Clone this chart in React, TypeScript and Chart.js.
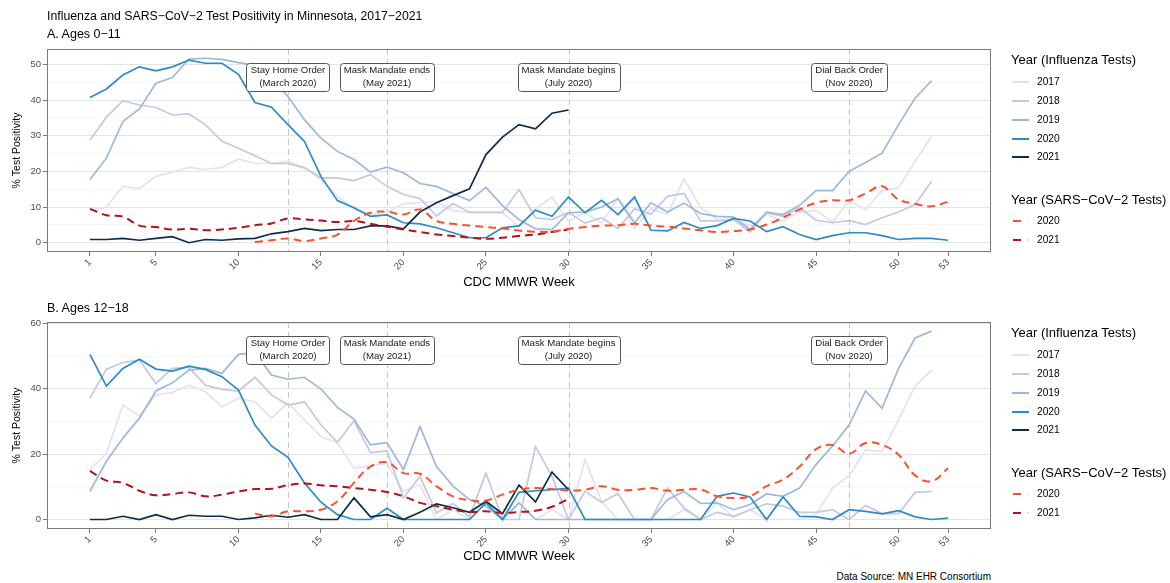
import React, { useEffect, useRef } from "react";
import { Chart, registerables } from "chart.js";

Chart.register(...registerables);

const FONT = "'Liberation Sans', Arial, Helvetica, sans-serif";
Chart.defaults.font.family = FONT;

// ---------- categories / ticks ----------
const X_TICKS = [1, 5, 10, 15, 20, 25, 30, 35, 40, 45, 50, 53];
const X_MIN = -1.6;
const X_MAX = 55.6;

const EVENT_WEEKS = [13, 19, 30, 47];
const EVENT_TITLES = ["Stay Home Order", "Mask Mandate ends", "Mask Mandate begins", "Dial Back Order"];
const EVENT_DATES = ["(March 2020)", "(May 2021)", "(July 2020)", "(Nov 2020)"];

const FLU_YEARS = ["2017", "2018", "2019", "2020", "2021"];
const COVID_YEARS = ["2020", "2021"];
const FLU_COLORS = ["#e5e2ef", "#c7c7e2", "#9cb8dc", "#2b8cc4", "#0c2d4e"];
const COVID_COLORS = ["#f7522f", "#b0141b"];
const COVID_START_WEEK = [11, 1];

// ---------- Panel A: ages 0-11 ----------
const A_Y_TICKS = [0, 5, 10, 15, 20, 25, 30, 35, 40, 45, 50];
const A_Y_LABEL_STEP = 10;
const A_FLU_2017 = [9.0, 10.0, 15.8, 15.2, 18.6, 19.8, 21.1, 20.5, 21.1, 23.5, 22.2, 22.2, 22.8, 21.1, 17.7, 13.0, 9.3, 7.9, 8.5, 10.9, 11.2, 11.5, 9.0, 8.5, 8.5, 8.4, 4.5, 9.5, 12.8, 6.0, 8.5, 5.5, 12.5, 4.0, 9.5, 8.0, 17.9, 9.8, 6.5, 6.5, 4.7, 7.9, 6.1, 8.6, 9.1, 5.8, 11.8, 9.3, 14.6, 15.4, 22.8, 29.8];
const A_FLU_2018 = [28.7, 35.2, 39.8, 38.6, 37.9, 35.8, 36.1, 33.1, 28.4, 26.5, 24.4, 22.2, 22.2, 21.0, 18.2, 18.2, 17.4, 19.1, 15.8, 13.5, 12.4, 7.5, 11.0, 8.5, 8.5, 8.5, 14.9, 7.0, 6.5, 8.5, 5.5, 7.0, 4.0, 9.5, 8.0, 13.0, 13.8, 6.1, 6.1, 6.5, 3.0, 8.4, 7.4, 9.8, 6.3, 5.6, 6.2, 5.1, 7.0, 8.6, 10.7, 17.2];
const A_FLU_2019 = [17.7, 23.7, 34.0, 37.5, 44.7, 46.3, 51.5, 51.7, 51.4, 50.5, 49.8, 46.6, 41.0, 34.5, 29.3, 25.6, 23.3, 19.8, 21.2, 19.6, 16.6, 15.8, 13.8, 11.8, 15.5, 10.4, 6.5, 3.9, 3.7, 8.4, 8.6, 10.0, 12.3, 5.6, 11.2, 8.6, 11.1, 8.2, 7.4, 7.2, 3.7, 8.6, 7.9, 10.5, 14.6, 14.6, 20.0, 22.5, 25.1, 33.1, 40.5, 45.4];
const A_FLU_2020 = [40.7, 43.1, 47.0, 49.3, 48.2, 49.3, 51.2, 50.3, 50.3, 47.2, 39.3, 38.0, 33.1, 28.4, 18.6, 11.8, 9.8, 7.4, 7.8, 5.6, 5.3, 4.2, 2.8, 1.4, 1.4, 4.2, 4.7, 9.1, 7.4, 12.8, 8.4, 11.9, 7.9, 12.8, 3.5, 3.3, 5.7, 4.0, 4.8, 6.8, 6.1, 3.1, 4.5, 2.3, 0.9, 2.0, 2.8, 2.8, 2.0, 0.9, 1.2, 1.2, 0.7];
const A_FLU_2021 = [0.9, 0.9, 1.2, 0.7, 1.2, 1.7, 0.0, 0.9, 0.7, 1.1, 1.2, 2.5, 3.1, 4.0, 3.4, 3.7, 3.7, 4.7, 4.7, 3.9, 8.6, 11.2, 13.2, 15.1, 24.7, 29.6, 33.1, 31.9, 36.3, 37.2];
const A_COVID_2020 = [0.2, 0.7, 1.2, 0.5, 1.2, 2.3, 6.1, 8.4, 8.7, 7.9, 9.3, 6.1, 5.3, 4.8, 4.4, 4.0, 3.4, 3.1, 3.1, 3.9, 4.4, 4.8, 4.9, 5.3, 4.8, 4.5, 4.0, 3.5, 3.0, 3.3, 3.7, 5.1, 7.0, 9.3, 11.2, 11.9, 11.9, 13.8, 15.8, 12.1, 10.9, 10.2, 11.5];
const A_COVID_2021 = [9.5, 7.7, 7.3, 4.8, 4.4, 3.7, 3.9, 3.5, 3.7, 4.2, 4.9, 5.4, 6.8, 6.5, 6.2, 5.8, 6.1, 5.3, 4.5, 3.7, 3.0, 2.3, 1.9, 1.4, 1.1, 1.4, 1.9, 2.3, 3.0, 3.7];

// ---------- Panel B: ages 12-18 ----------
const B_Y_TICKS = [0, 10, 20, 30, 40, 50, 60];
const B_Y_LABEL_STEP = 20;
const B_FLU_2017 = [15.2, 20.3, 35.0, 31.7, 38.1, 38.9, 41.1, 39.1, 34.5, 37.1, 36.0, 31.0, 35.7, 30.5, 25.4, 23.4, 15.7, 16.4, 17.1, 8.6, 10.7, 0, 3.0, 0, 5.6, 0, 5.1, 0, 3.0, 0, 18.3, 5.6, 0, 0, 0, 0, 3.0, 0, 5.1, 0.7, 3.0, 0, 0, 0, 1.5, 9.6, 13.4, 21.3, 20.8, 30.5, 40.8, 45.7];
const B_FLU_2018 = [37.1, 46.0, 48.0, 48.7, 41.6, 46.2, 46.5, 41.1, 39.8, 39.3, 43.5, 38.1, 35.0, 36.0, 28.9, 23.6, 30.2, 20.5, 21.0, 6.6, 13.2, 2.0, 4.9, 0.8, 14.2, 0, 0, 22.3, 13.2, 0, 8.6, 5.3, 7.9, 0, 0, 9.6, 3.5, 0, 2.2, 1.0, 3.0, 4.8, 4.1, 2.2, 2.2, 3.0, 0, 4.3, 1.8, 1.8, 8.3, 8.6];
const B_FLU_2019 = [8.6, 17.8, 24.9, 31.0, 39.3, 41.8, 45.7, 46.2, 44.7, 50.5, 51.0, 44.2, 42.9, 43.5, 39.9, 34.3, 30.7, 22.8, 23.5, 15.2, 28.4, 16.2, 10.2, 6.1, 4.1, 0, 5.1, 0, 0, 0, 0, 0, 0, 0, 0, 6.1, 8.6, 4.9, 5.1, 3.0, 4.6, 7.8, 7.1, 9.6, 16.8, 22.5, 28.9, 39.3, 34.0, 46.2, 55.5, 57.6];
const B_FLU_2020 = [50.5, 40.8, 46.2, 49.0, 46.0, 45.4, 46.9, 45.9, 43.7, 39.6, 28.9, 22.5, 19.0, 11.2, 5.3, 1.5, 0, 0, 3.4, 0, 0, 0, 0, 0, 5.1, 0, 8.3, 8.8, 9.1, 9.6, 0, 0, 0, 0, 0, 0, 0, 0, 7.1, 8.1, 6.9, 0, 6.9, 1.0, 0.8, 0, 3.0, 2.5, 1.7, 2.7, 0.8, 0, 0.4];
const B_FLU_2021 = [0, 0, 1.0, 0, 1.5, 0, 1.3, 1.0, 1.0, 0, 0.5, 1.3, 0.7, 1.5, 0, 0, 6.6, 0.8, 1.5, 0, 2.2, 4.8, 3.6, 2.2, 5.6, 1.8, 10.5, 5.4, 14.5, 9.1];
const B_COVID_2020 = [1.8, 1.0, 2.5, 2.5, 3.0, 5.6, 11.2, 16.2, 17.5, 14.2, 14.0, 10.2, 7.1, 5.9, 5.8, 7.6, 9.1, 9.6, 9.3, 8.9, 9.1, 10.2, 9.1, 9.1, 9.6, 8.8, 9.1, 9.2, 7.1, 6.6, 7.1, 10.2, 12.2, 16.2, 21.5, 22.8, 20.1, 23.4, 22.8, 19.8, 13.5, 11.7, 15.7];
const B_COVID_2021 = [14.9, 11.9, 11.2, 8.8, 7.4, 7.8, 8.3, 7.1, 7.6, 8.6, 9.3, 9.4, 10.5, 11.0, 10.5, 10.2, 9.6, 9.1, 8.4, 7.1, 5.1, 4.1, 3.0, 2.3, 2.5, 2.0, 2.3, 2.7, 3.9, 6.3];

const PANEL_A = {
  flu: [A_FLU_2017, A_FLU_2018, A_FLU_2019, A_FLU_2020, A_FLU_2021],
  covid: [A_COVID_2020, A_COVID_2021],
  yMin: -2.6, yMax: 54.3, yTicks: A_Y_TICKS, yStep: A_Y_LABEL_STEP,
  padTop: 49, height: 290, xAxisHeight: 38,
};
const PANEL_B = {
  flu: [B_FLU_2017, B_FLU_2018, B_FLU_2019, B_FLU_2020, B_FLU_2021],
  covid: [B_COVID_2020, B_COVID_2021],
  yMin: -2.9, yMax: 60.4, yTicks: B_Y_TICKS, yStep: B_Y_LABEL_STEP,
  padTop: 32, height: 274, xAxisHeight: 35,
};

function toPoints(vals: number[], start: number) {
  return vals.map((v, i) => ({ x: start + i, y: v }));
}

function roundRectPath(ctx: CanvasRenderingContext2D, x: number, y: number, w: number, h: number, r: number) {
  ctx.beginPath();
  ctx.moveTo(x + r, y);
  ctx.lineTo(x + w - r, y);
  ctx.quadraticCurveTo(x + w, y, x + w, y + r);
  ctx.lineTo(x + w, y + h - r);
  ctx.quadraticCurveTo(x + w, y + h, x + w - r, y + h);
  ctx.lineTo(x + r, y + h);
  ctx.quadraticCurveTo(x, y + h, x, y + h - r);
  ctx.lineTo(x, y + r);
  ctx.quadraticCurveTo(x, y, x + r, y);
  ctx.closePath();
}

const panelPlugin = {
  id: "panelDecor",
  beforeDatasetsDraw(chart: any) {
    const { ctx, chartArea, scales } = chart;
    ctx.save();
    ctx.strokeStyle = "#c6c6c6";
    ctx.lineWidth = 1;
    ctx.setLineDash([6, 4]);
    EVENT_WEEKS.forEach((w) => {
      const px = Math.round(scales.x.getPixelForValue(w)) + 0.5;
      ctx.beginPath();
      ctx.moveTo(px, chartArea.top);
      ctx.lineTo(px, chartArea.bottom);
      ctx.stroke();
    });
    ctx.restore();
  },
  afterDatasetsDraw(chart: any) {
    const { ctx, chartArea, scales } = chart;
    ctx.save();
    ctx.font = `9.6px ${FONT}`;
    EVENT_WEEKS.forEach((w, i) => {
      const cx = scales.x.getPixelForValue(w);
      const t1 = EVENT_TITLES[i];
      const t2 = EVENT_DATES[i];
      const tw = Math.max(ctx.measureText(t1).width, ctx.measureText(t2).width);
      const bw = Math.round(tw + 8);
      const bh = 28;
      const bx = Math.round(cx - bw / 2) + 0.5;
      const by = Math.round(chartArea.top + 14) + 0.5;
      roundRectPath(ctx, bx, by, bw, bh, 3);
      ctx.fillStyle = "#ffffff";
      ctx.fill();
      ctx.strokeStyle = "#555555";
      ctx.lineWidth = 1;
      ctx.stroke();
      ctx.fillStyle = "#1a1a1a";
      ctx.textAlign = "center";
      ctx.textBaseline = "middle";
      ctx.fillText(t1, cx, by + 6.5);
      ctx.fillText(t2, cx, by + 19.5);
    });
    ctx.strokeStyle = "#7a7a7a";
    ctx.lineWidth = 1;
    ctx.strokeRect(
      Math.round(chartArea.left) + 0.5,
      Math.round(chartArea.top) + 0.5,
      Math.round(chartArea.right - chartArea.left) - 1,
      Math.round(chartArea.bottom - chartArea.top) - 1
    );
    ctx.restore();
  },
};

function buildConfig(panel: any): any {
  const datasets: any[] = [];
  panel.covid.forEach((vals: number[], i: number) => {
    datasets.push({
      label: "SARS-CoV-2 " + COVID_YEARS[i],
      data: toPoints(vals, COVID_START_WEEK[i]),
      borderColor: COVID_COLORS[i],
      borderWidth: 2,
      borderDash: [8, 5],
      pointRadius: 0,
      tension: 0.4,
      fill: false,
    });
  });
  for (let i = FLU_YEARS.length - 1; i >= 0; i--) {
    datasets.push({
      label: "Influenza " + FLU_YEARS[i],
      data: toPoints(panel.flu[i], 1),
      borderColor: FLU_COLORS[i],
      borderWidth: 1.7,
      pointRadius: 0,
      tension: 0,
      fill: false,
    });
  }
  const yStep = panel.yStep;
  return {
    type: "line",
    data: { datasets },
    plugins: [panelPlugin],
    options: {
      animation: false,
      responsive: false,
      maintainAspectRatio: false,
      events: [],
      layout: { padding: { top: panel.padTop, right: 179, left: 0, bottom: 0 } },
      plugins: { legend: { display: false }, tooltip: { enabled: false }, title: { display: false } },
      scales: {
        x: {
          type: "linear",
          min: X_MIN,
          max: X_MAX,
          afterBuildTicks: (s: any) => {
            s.ticks = X_TICKS.map((v) => ({ value: v }));
          },
          afterFit: (s: any) => {
            s.height = panel.xAxisHeight;
          },
          ticks: {
            autoSkip: false,
            minRotation: 45,
            maxRotation: 45,
            padding: 1,
            color: "#4d4d4d",
            font: { size: 9.5, family: FONT },
            callback: (v: any) => String(v),
          },
          grid: { drawOnChartArea: false, drawTicks: true, tickLength: 4, color: "#7a7a7a" },
          border: { display: false },
          title: {
            display: true,
            text: "CDC MMWR Week",
            color: "#000000",
            font: { size: 13, family: FONT },
            padding: { top: 0, bottom: 0 },
          },
        },
        y: {
          type: "linear",
          min: panel.yMin,
          max: panel.yMax,
          afterBuildTicks: (s: any) => {
            s.ticks = panel.yTicks.map((v: number) => ({ value: v }));
          },
          afterFit: (s: any) => {
            s.width = 47;
          },
          ticks: {
            autoSkip: false,
            padding: 2,
            color: "#4d4d4d",
            font: { size: 9.5, family: FONT },
            callback: (v: any) => (v % yStep === 0 ? String(v) : ""),
          },
          grid: {
            drawTicks: true,
            tickLength: 4,
            color: (c: any) => (c.tick && c.tick.value % yStep === 0 ? "#e4e4e4" : "#f2f2f2"),
            lineWidth: (c: any) => (c.tick && c.tick.value % yStep === 0 ? 1 : 0.7),
            tickColor: (c: any) => (c.tick && c.tick.value % yStep === 0 ? "#7a7a7a" : "rgba(0,0,0,0)"),
          },
          border: { display: false },
          title: {
            display: true,
            text: "% Test Positivity",
            color: "#000000",
            font: { size: 10.5, family: FONT },
            padding: { top: 11, bottom: 0 },
          },
        },
      },
    },
  };
}

function PanelCanvas({ panel, top }: { panel: any; top: number }) {
  const ref = useRef<HTMLCanvasElement | null>(null);
  useEffect(() => {
    if (!ref.current) return;
    const chart = new Chart(ref.current, buildConfig(panel));
    return () => chart.destroy();
  }, [panel]);
  return (
    <canvas
      ref={ref}
      width={1170}
      height={panel.height}
      style={{ position: "absolute", left: 0, top, width: 1170, height: panel.height }}
    />
  );
}

function Legend({ top }: { top: number }) {
  const label = (text: string, cy: number, size: number, left: number) => (
    <div
      key={text + cy}
      style={{
        position: "absolute",
        left,
        top: cy - 8,
        height: 16,
        lineHeight: "16px",
        fontSize: size,
        fontFamily: FONT,
        color: "#000",
        whiteSpace: "nowrap",
      }}
    >
      {text}
    </div>
  );
  const fluRows = [82, 101, 119.5, 138.5, 157];
  const covidRows = [220.5, 239.5];
  return (
    <>
      {label("Year (Influenza Tests)", top + 60, 13, 1011)}
      {FLU_YEARS.map((y, i) => (
        <React.Fragment key={"f" + y}>
          <div
            style={{
              position: "absolute",
              left: 1012,
              top: top + fluRows[i] - 1,
              width: 17,
              height: 2,
              background: FLU_COLORS[i],
            }}
          />
          {label(y, top + fluRows[i], 10.2, 1037)}
        </React.Fragment>
      ))}
      {label("Year (SARS\u2212CoV\u22122 Tests)", top + 199.5, 13, 1011)}
      {COVID_YEARS.map((y, i) => (
        <React.Fragment key={"c" + y}>
          <div
            style={{
              position: "absolute",
              left: 1013,
              top: top + covidRows[i] - 1,
              width: 8,
              height: 2,
              background: COVID_COLORS[i],
            }}
          />
          <div
            style={{
              position: "absolute",
              left: 1027,
              top: top + covidRows[i] - 1,
              width: 2,
              height: 2,
              background: COVID_COLORS[i],
              opacity: 0.15,
            }}
          />
          {label(y, top + covidRows[i], 10.2, 1037)}
        </React.Fragment>
      ))}
    </>
  );
}

export default function App() {
  const text = (t: string, left: number, cy: number, size: number, extra: any = {}) => (
    <div
      style={{
        position: "absolute",
        left,
        top: cy - 9,
        height: 18,
        lineHeight: "18px",
        fontSize: size,
        fontFamily: FONT,
        color: "#000",
        whiteSpace: "nowrap",
        ...extra,
      }}
    >
      {t}
    </div>
  );
  return (
    <div style={{ position: "absolute", left: 0, top: 0, width: 1170, height: 583, background: "#fff", overflow: "hidden" }}>
      <PanelCanvas panel={PANEL_A} top={0} />
      <PanelCanvas panel={PANEL_B} top={290} />
      {text("Influenza and SARS\u2212CoV\u22122 Test Positivity in Minnesota, 2017\u22122021", 47, 15.5, 12.3)}
      {text("A. Ages 0\u221211", 47, 34, 12.5)}
      {text("B. Ages 12\u221218", 47, 308, 12.5)}
      <Legend top={0} />
      <Legend top={273} />
      <div
        style={{
          position: "absolute",
          right: 1170 - 991,
          top: 569,
          height: 16,
          lineHeight: "16px",
          fontSize: 10,
          fontFamily: FONT,
          color: "#000",
          whiteSpace: "nowrap",
        }}
      >
        Data Source: MN EHR Consortium
      </div>
    </div>
  );
}
